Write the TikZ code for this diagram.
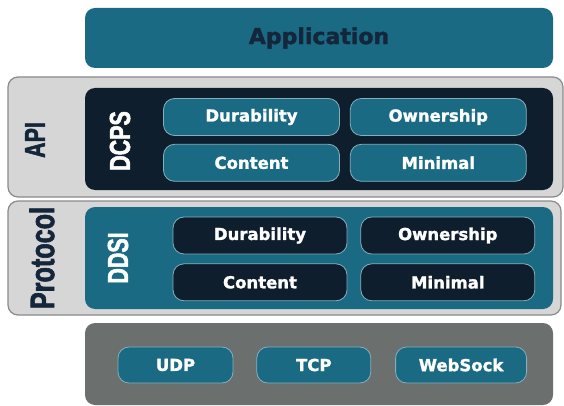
\documentclass[tikz,border=0pt]{standalone}
\usepackage{fontspec}
\setmainfont{DejaVu Sans}[BoldFeatures={FakeBold=1.6}]
\newfontfamily\narrowfont{Liberation Sans Bold}[FakeStretch=0.74, FakeBold=1.8]
\usepackage{tikz}
\usetikzlibrary{positioning}
\definecolor{ddsteal}{HTML}{1A6A84}
\definecolor{dcpsnavy}{HTML}{0F1E2C}
\definecolor{appnavy}{HTML}{14263A}
\definecolor{panelfill}{HTML}{D6D6D6}
\definecolor{panelrim}{HTML}{8A8A8A}
\definecolor{netslate}{HTML}{6B6F6E}
\definecolor{cellrim}{HTML}{86AFBD}

\begin{document}
\begin{tikzpicture}[x=1pt, y=-1pt,
    layer/.style={rounded corners=10pt, minimum width=468pt, inner sep=0pt},
    panel/.style={draw=panelrim, line width=1.2pt, fill=panelfill,
                  rounded corners=10pt, inner sep=0pt},
    cell/.style={draw=cellrim, line width=0.8pt, rounded corners=11pt,
                 minimum width=176pt, minimum height=37pt, inner sep=0pt,
                 text=white, font=\fontsize{16.5}{18}\selectfont\bfseries},
    tag/.style={rotate=90, inner sep=0pt,
                font=\narrowfont\fontsize{29}{31}\selectfont},
]
\useasboundingbox (0,0) rectangle (564,406);

% application
\node[layer, fill=ddsteal, minimum height=60pt, text=appnavy,
      font=\fontsize{22}{24}\selectfont\bfseries] (app) at (319,38) {Application};

% API / DCPS
\node[panel, minimum width=555pt, minimum height=120pt] (api) at (285.5,137) {};
\node[layer, fill=dcpsnavy, minimum height=102pt] (dcps) at (319,139) {};
\node[tag, text=appnavy] (apitag) at (35,140) {API};
\node[tag, text=white] (dcpstag) at (120,141) {DCPS};
\node[cell, fill=ddsteal] (dcpsdur) at (251.5,117) {Durability};
\node[cell, fill=ddsteal, right=10pt of dcpsdur] (dcpsown) {Ownership};
\node[cell, fill=ddsteal, below=8pt of dcpsdur] (dcpscon) {Content};
\node[cell, fill=ddsteal, below=8pt of dcpsown] (dcpsmin) {Minimal};

% Protocol / DDSI
\node[panel, minimum width=553pt, minimum height=114pt] (proto) at (284.5,258) {};
\node[layer, fill=ddsteal, minimum height=102pt] (ddsi) at (319,258) {};
\node[tag, text=appnavy, font=\narrowfont\fontsize{34}{36}\selectfont]
    (prototag) at (42,258) {Protocol};
\node[tag, text=white] (dditag) at (118,258) {DDSI};
\node[cell, fill=dcpsnavy, minimum width=174pt] (ddsidur) at (260,235.5) {Durability};
\node[cell, fill=dcpsnavy, minimum width=174pt, right=13pt of ddsidur] (ddsiown) {Ownership};
\node[cell, fill=dcpsnavy, minimum width=174pt, below=9pt of ddsidur] (ddsicon) {Content};
\node[cell, fill=dcpsnavy, minimum width=174pt, below=9pt of ddsiown] (ddsimin) {Minimal};

% transports
\node[layer, fill=netslate, minimum height=82pt] (net) at (319,364) {};
\node[cell, fill=ddsteal, minimum width=115pt, minimum height=36pt] (udp) at (175.5,365) {UDP};
\node[cell, fill=ddsteal, minimum width=114pt, minimum height=36pt,
      right=23pt of udp] (tcp) {TCP};
\node[cell, fill=ddsteal, minimum width=131pt, minimum height=36pt,
      right=24pt of tcp] (websock) {WebSock};
\end{tikzpicture}
\end{document}
